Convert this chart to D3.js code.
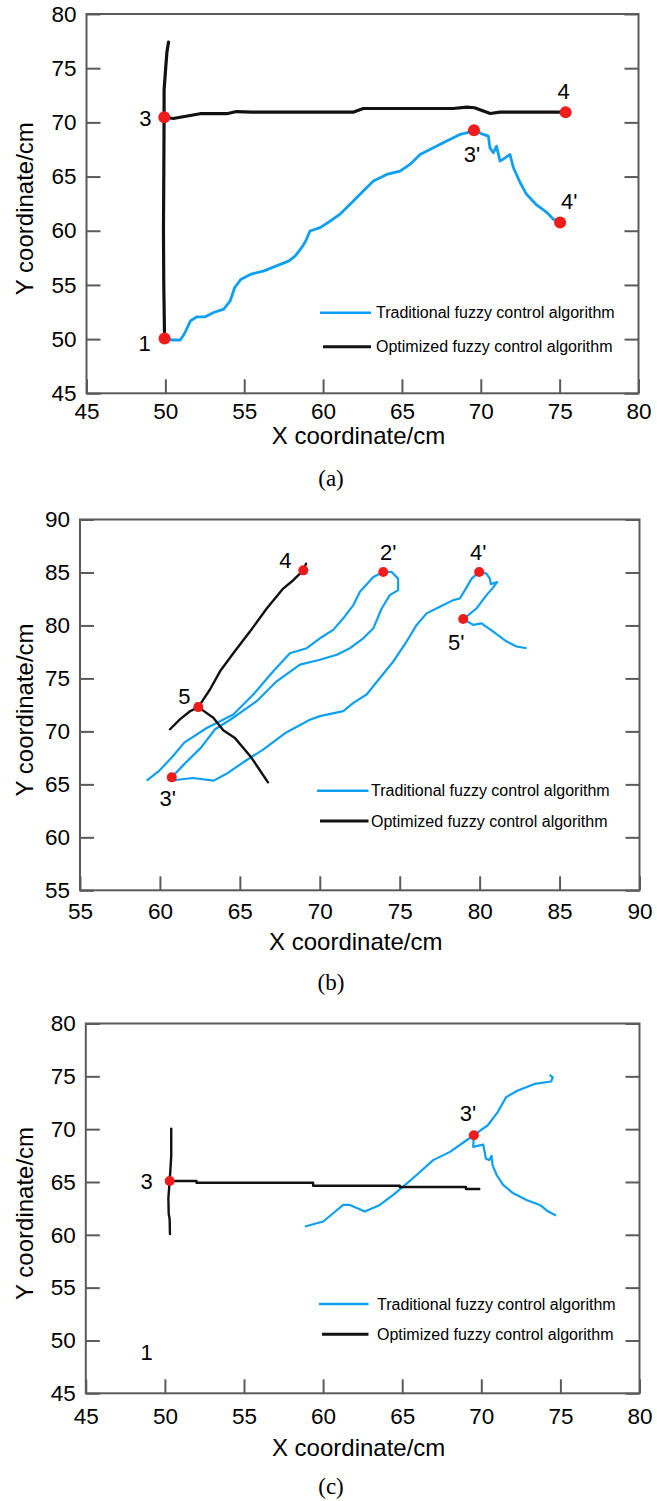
<!DOCTYPE html>
<html lang="en">
<head>
    <meta charset="UTF-8">
    <title>Trajectory comparison - fuzzy control</title>
    <script src="https://cdn.jsdelivr.net/npm/d3@7/dist/d3.min.js"></script>
    <style>
        body {
            margin: 0;
            background-color: #fff;
        }
        svg text {
            font-family: "Liberation Sans", Arial, sans-serif;
            fill: #000;
        }
        svg text.caption {
            font-family: "Liberation Serif", "Times New Roman", serif;
        }
    </style>
</head>
<body>
<script>

    // ---- data ----
    const seriesNames = ["Traditional fuzzy control algorithm", "Optimized fuzzy control algorithm"];
    const captions = ["(a)", "(b)", "(c)"];
    const xTitle = "X coordinate/cm";
    const yTitle = "Y coordinate/cm";

    const ticksA = [45, 50, 55, 60, 65, 70, 75, 80];
    const ticksB = [55, 60, 65, 70, 75, 80, 85, 90];
    const ticksC = [45, 50, 55, 60, 65, 70, 75, 80];

    // panel (a)
    const aTraditional = [[
        [49.95, 50.06], [50.41, 49.92], [50.94, 49.92], [51.2, 50.47], [51.6, 51.7], [52.0, 52.06],
        [52.53, 52.06], [53.06, 52.46], [53.7, 52.77], [54.1, 53.5], [54.4, 54.76], [54.8, 55.53],
        [55.45, 56.0], [56.25, 56.3], [57.05, 56.76], [57.84, 57.22], [58.24, 57.68], [58.64, 58.44],
        [58.9, 59.06], [59.17, 59.98], [59.81, 60.29], [60.44, 60.88], [61.07, 61.52], [61.92, 62.74],
        [62.55, 63.66], [63.19, 64.58], [64.04, 65.2], [64.88, 65.5], [65.51, 66.12], [66.15, 67.04],
        [66.99, 67.65], [67.84, 68.27], [68.68, 68.89], [69.1, 69.03], [69.57, 69.28], [70.16, 68.89],
        [70.48, 68.73], [70.58, 67.65], [70.8, 67.2], [71.0, 67.8], [71.22, 66.43], [71.54, 66.73],
        [71.85, 67.04], [72.07, 65.81], [72.5, 64.43], [72.9, 63.36], [73.5, 62.44], [74.2, 61.67],
        [74.6, 61.06], [75.03, 60.75]
    ]];
    const aOptimized = [
        [[49.95, 50.06], [49.9, 55], [49.88, 60], [49.9, 65], [49.92, 70.4], [49.92, 73],
         [50.02, 75], [50.1, 76.5], [50.2, 77.4]],
        [[49.93, 70.48], [50.5, 70.36], [52.2, 70.8], [53.9, 70.8], [54.5, 71.0], [55.5, 70.94],
         [61.9, 70.94], [62.55, 71.28], [68.26, 71.28], [69.1, 71.4], [69.6, 71.35], [70.6, 70.82],
         [71.2, 70.94], [75.38, 70.94]]
    ];
    const aMarks = [[49.95, 50.06, "1"], [49.93, 70.48, "3"], [75.38, 70.94, "4"],
                    [69.57, 69.28, "3'"], [75.03, 60.75, "4'"]];
    const aNotes = [];

    // panel (b)
    const bTraditional = [[
        [59.17, 65.35], [59.95, 66.28], [60.74, 67.53], [61.52, 68.94], [62.9, 70.3], [64.59, 71.6],
        [65.84, 73.48], [67.09, 75.67], [68.13, 77.38], [69.18, 77.85], [70.01, 78.79], [70.84, 79.58],
        [71.47, 80.67], [72.1, 81.92], [72.51, 83.17], [73.35, 84.58], [73.97, 85.05],
        [74.49, 85.05], [74.9, 84.42], [74.9, 83.33],
        [74.38, 82.86], [73.87, 81.6], [73.35, 79.73], [72.72, 78.79], [71.89, 77.85], [71.06, 77.23],
        [70.01, 76.76], [68.76, 76.3], [67.3, 74.73], [66.05, 72.85], [64.59, 71.29], [63.45, 70.2],
        [62.57, 68.47], [61.52, 66.91], [60.74, 65.66],
        [61.0, 65.41], [62.05, 65.6], [63.36, 65.35], [64.14, 65.97], [65.19, 67.06], [66.5, 68.32],
        [67.9, 69.9], [69.38, 71.1], [70.01, 71.44], [71.47, 71.91], [72.1, 72.69], [72.93, 73.48],
        [73.76, 75.04], [74.6, 76.6], [75.43, 78.48], [76.06, 80.05], [76.68, 81.14], [77.51, 81.76],
        [78.35, 82.39], [78.76, 82.54], [79.08, 83.33], [79.5, 84.42], [79.97, 85.05],
        [80.43, 84.89], [80.64, 84.4], [80.7, 83.9], [81.1, 84.1], [80.8, 83.5], [80.43, 82.86],
        [79.8, 81.6], [79.29, 80.98], [78.97, 80.61],
        [79.6, 80.05], [80.12, 80.2], [80.85, 79.42], [81.69, 78.48], [82.31, 78.01], [82.94, 77.85]
    ]];
    const bOptimized = [
        [[60.63, 70.2], [61.25, 71.13], [61.88, 71.9], [62.4, 72.29], [62.71, 73.0], [63.13, 73.95],
         [63.76, 75.67], [64.59, 77.38], [65.63, 79.42], [66.68, 81.6], [67.71, 83.48], [68.34, 84.27],
         [68.97, 85.2], [69.14, 85.83]],
        [[62.4, 72.29], [63.34, 71.29], [63.96, 70.1], [64.67, 69.41], [65.72, 67.53], [66.76, 65.19]]
    ];
    const bMarks = [[68.97, 85.2, "4"], [62.4, 72.29, "5"], [73.97, 85.05, "2'"],
                    [79.97, 85.05, "4'"], [78.97, 80.61, "5'"], [60.74, 65.66, "3'"]];
    const bNotes = [];

    // panel (c)
    const cTraditional = [
        [[58.85, 60.79], [60.0, 61.26], [60.64, 62.04], [61.27, 62.83], [61.69, 62.83], [62.64, 62.2],
         [63.59, 62.83], [64.43, 63.78], [65.06, 64.56], [65.91, 65.66], [66.96, 67.07], [68.02, 67.85],
         [69.07, 68.95], [69.53, 69.43], [70.41, 70.37], [71.04, 71.62], [71.57, 73.03], [72.31, 73.66],
         [73.37, 74.28], [74.41, 74.51], [74.52, 74.91], [74.31, 75.13]],
        [[69.53, 69.43], [69.49, 68.32], [70.12, 68.54], [70.29, 67.22], [70.5, 67.07], [70.65, 67.48],
         [70.71, 66.6], [70.97, 65.66], [71.38, 64.72], [72.02, 63.93], [72.86, 63.3], [73.7, 62.83],
         [74.23, 62.2], [74.72, 61.83]]
    ];
    const cOptimized = [
        [[50.4, 70.05], [50.4, 67.5], [50.35, 66.2], [50.3, 65.09], [50.22, 63.5], [50.24, 62.0],
         [50.3, 61.5], [50.32, 60.07]],
        [[50.3, 65.09], [52.0, 65.09], [52.0, 64.93], [59.37, 64.93], [59.37, 64.65], [64.85, 64.65],
         [64.85, 64.53], [69.03, 64.53], [69.03, 64.34], [69.87, 64.34]]
    ];
    const cMarks = [[50.3, 65.09, "3"], [69.53, 69.43, "3'"]];
    const cNotes = [[48.85, 48.94, "1"]];

    // ---- layout ----
    const width = 657, height = 1501;
    const blue = "#0f9ff0", black = "#111", red = "#f21b1b", axisColor = "#5a5a5a";

    const panels = [
        {
            xTicks: ticksA, yTicks: ticksA, traditional: aTraditional, optimized: aOptimized,
            marks: aMarks, notes: aNotes, caption: captions[0],
            left: 86.5, right: 638.5, top: 14, bottom: 393.3,
            xPad: 10, titleY: 444, captionY: 486,
            blueW: 2.8, blackW: 3.2, dotR: 6,
            legend: {x1: 320, x2: 371, tx: 376, y: 312.7, gap: 34},
            offsets: {"1": [-20, 5], "3": [-19, 1], "4": [-2, -21], "3'": [-2, 24], "4'": [9, -22]}
        },
        {
            xTicks: ticksB, yTicks: ticksB, traditional: bTraditional, optimized: bOptimized,
            marks: bMarks, notes: bNotes, caption: captions[1],
            left: 80, right: 639.5, top: 519.5, bottom: 890.3,
            xPad: 13, titleY: 950, captionY: 990,
            blueW: 2.2, blackW: 2.4, dotR: 5,
            legend: {x1: 317, x2: 368.5, tx: 371, y: 790.7, gap: 30.3},
            offsets: {"4": [-18, -10], "5": [-14, -11], "2'": [5, -20], "4'": [-1, -20], "5'": [-7, 23], "3'": [-4, 21]}
        },
        {
            xTicks: ticksC, yTicks: ticksC, traditional: cTraditional, optimized: cOptimized,
            marks: cMarks, notes: cNotes, caption: captions[2],
            left: 85.8, right: 639.5, top: 1023.5, bottom: 1393.3,
            xPad: 15, titleY: 1455.5, captionY: 1494,
            blueW: 2.2, blackW: 2.4, dotR: 5,
            legend: {x1: 319, x2: 368.5, tx: 377, y: 1304, gap: 30.3},
            offsets: {"3": [-23, 0], "3'": [-6, -22]}
        }
    ];

    const svg = d3.select("body")
        .append("svg")
        .attr("width", width)
        .attr("height", height);

    panels.forEach(p => drawPanel(p));

    function drawPanel(p) {
        const g = svg.append("g");

        const x = d3.scaleLinear().domain(d3.extent(p.xTicks)).range([p.left, p.right]);
        const y = d3.scaleLinear().domain(d3.extent(p.yTicks)).range([p.bottom, p.top]);

        // bottom axis, ticks pointing in
        const xAxis = g.append("g")
            .attr("transform", `translate(0,${p.bottom})`)
            .call(d3.axisBottom(x).tickValues(p.xTicks).tickSizeInner(-14).tickSizeOuter(0).tickPadding(p.xPad));

        // left axis with labels
        const yAxis = g.append("g")
            .attr("transform", `translate(${p.left},0)`)
            .call(d3.axisLeft(y).tickValues(p.yTicks).tickSizeInner(-14).tickSizeOuter(0).tickPadding(10));

        // right axis, ticks only
        const yAxisR = g.append("g")
            .attr("transform", `translate(${p.right},0)`)
            .call(d3.axisLeft(y).tickValues(p.yTicks).tickSizeInner(14).tickSizeOuter(0).tickFormat(""));

        [xAxis, yAxis, yAxisR].forEach(a => {
            a.select(".domain").remove();
            a.selectAll(".tick line").attr("stroke", axisColor).attr("stroke-width", 2);
            a.selectAll(".tick text")
                .style("font-family", '"Liberation Sans", Arial, sans-serif')
                .style("font-size", "22.5px")
                .attr("fill", "#000");
        });

        // frame
        g.append("rect")
            .attr("x", p.left)
            .attr("y", p.top)
            .attr("width", p.right - p.left)
            .attr("height", p.bottom - p.top)
            .attr("fill", "none")
            .attr("stroke", axisColor)
            .attr("stroke-width", 2);

        const line = d3.line()
            .x(d => x(d[0]))
            .y(d => y(d[1]));

        // traditional first, optimized drawn on top
        g.selectAll("path.trad")
            .data(p.traditional)
            .enter()
            .append("path")
            .attr("class", "trad")
            .attr("d", line)
            .attr("fill", "none")
            .attr("stroke", blue)
            .attr("stroke-width", p.blueW)
            .attr("stroke-linejoin", "round");

        g.selectAll("path.opt")
            .data(p.optimized)
            .enter()
            .append("path")
            .attr("class", "opt")
            .attr("d", line)
            .attr("fill", "none")
            .attr("stroke", black)
            .attr("stroke-width", p.blackW)
            .attr("stroke-linejoin", "round")
            .attr("stroke-linecap", "round");

        // red way points
        g.selectAll("circle.mark")
            .data(p.marks)
            .enter()
            .append("circle")
            .attr("class", "mark")
            .attr("cx", d => x(d[0]))
            .attr("cy", d => y(d[1]))
            .attr("r", p.dotR)
            .attr("fill", red);

        g.selectAll("text.mark")
            .data(p.marks)
            .enter()
            .append("text")
            .attr("class", "mark")
            .attr("x", d => x(d[0]) + p.offsets[d[2]][0])
            .attr("y", d => y(d[1]) + p.offsets[d[2]][1])
            .attr("dy", "0.36em")
            .attr("text-anchor", "middle")
            .style("font-size", "22px")
            .text(d => d[2]);

        g.selectAll("text.note")
            .data(p.notes)
            .enter()
            .append("text")
            .attr("class", "note")
            .attr("x", d => x(d[0]))
            .attr("y", d => y(d[1]))
            .attr("dy", "0.36em")
            .attr("text-anchor", "middle")
            .style("font-size", "22px")
            .text(d => d[2]);

        // legend
        const lg = p.legend;
        [blue, black].forEach((c, i) => {
            const ly = lg.y + i * lg.gap;
            g.append("line")
                .attr("x1", lg.x1 + (i ? 3 : 0))
                .attr("x2", lg.x2)
                .attr("y1", ly)
                .attr("y2", ly)
                .attr("stroke", c)
                .attr("stroke-width", i ? 3 : 2.5);
            g.append("text")
                .attr("x", lg.tx)
                .attr("y", ly)
                .attr("dy", "0.35em")
                .style("font-size", "16px")
                .text(seriesNames[i]);
        });

        // axis titles
        g.append("text")
            .attr("x", (p.left + p.right) / 2 - 4)
            .attr("y", p.titleY)
            .attr("text-anchor", "middle")
            .style("font-size", "24px")
            .text(xTitle);

        g.append("text")
            .attr("transform", `translate(33,${(p.top + p.bottom) / 2 + 5}) rotate(-90)`)
            .attr("text-anchor", "middle")
            .style("font-size", "24px")
            .text(yTitle);

        // caption below
        g.append("text")
            .attr("class", "caption")
            .attr("x", 331)
            .attr("y", p.captionY)
            .attr("text-anchor", "middle")
            .style("font-size", "23px")
            .text(p.caption);
    }
</script>
</body>
</html>
